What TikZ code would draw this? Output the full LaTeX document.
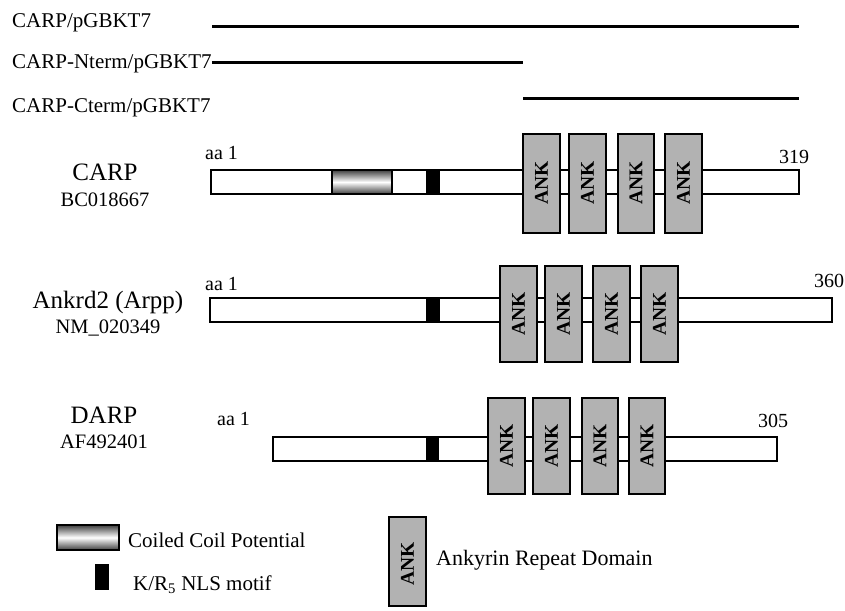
\documentclass[tikz,border=0pt]{standalone}
\usepackage{fontspec}
\setmainfont{Liberation Serif}
\begin{document}
\begin{tikzpicture}[x=1pt,y=-1pt,
  bar/.style={draw=black, line width=1.5pt, fill=white},
  ankbox/.style={draw=black, line width=1.5pt, fill=black!30},
  nlsbox/.style={draw=black, line width=1pt, fill=black},
  coil/.style={draw=black, line width=1.5pt, top color=black!75, bottom color=black!75, middle color=white},
  construct/.style={line width=3pt},
  toplbl/.style={font=\fontsize{21}{24}\selectfont, inner sep=0pt, anchor=base west},
  protname/.style={font=\fontsize{25}{28}\selectfont, inner sep=0pt, anchor=base},
  accname/.style={font=\fontsize{20.5}{24}\selectfont, inner sep=0pt, anchor=base},
  num/.style={font=\fontsize{20}{24}\selectfont, inner sep=0pt, anchor=base west},
  anktxt/.style={font=\bfseries\fontsize{19.5}{22}\selectfont, inner sep=0pt, rotate=90},
  leg/.style={font=\fontsize{21}{24}\selectfont, inner sep=0pt, anchor=base west}
]
\useasboundingbox (0,0) rectangle (845,610);

% ---------- constructs ----------
\node[toplbl] (t1) at (12,28) {CARP/pGBKT7};
\node[toplbl] (t2) at (12,68) {CARP-Nterm/pGBKT7};
\node[toplbl] (t3) at (12,112) {CARP-Cterm/pGBKT7};
\coordinate (l1a) at (212,26.5);
\coordinate (l1b) at (799,26.5);
\coordinate (l2b) at (523,62);
\coordinate (l3a) at (523,98);
\coordinate (l3b) at (799,98);
\draw[construct] (l1a) -- (l1b);
\draw[construct] (t2.east |- l2b) -- (l2b);
\draw[construct] (l3a) -- (l3b);

% ---------- CARP ----------
\node[protname] (carp) at (105,180) {CARP};
\node[accname] (carpacc) at (105,206) {BC018667};
\node[num] (carp1) at (205,159) {aa 1};
\node[num] (carpend) at (779,163) {319};
\draw[bar] (211,170) rectangle (799,194);
\draw[coil] (332,170) rectangle (392,194);
\draw[nlsbox] (426,170) rectangle (439,194);
\foreach \a/\b [count=\i] in {523/560,569/606,618/654,665/702}{
  \draw[ankbox] (\a,134) rectangle (\b,233);
  \node[anktxt] (carpank\i) at ({(\a+\b)/2},183) {ANK};
}

% ---------- Ankrd2 ----------
\node[protname] (ank2) at (108,308) {Ankrd2 (Arpp)};
\node[accname] (ank2acc) at (108,333) {NM\_020349};
\node[num] (ank21) at (205,290) {aa 1};
\node[num] (ank2end) at (814,287) {360};
\draw[bar] (210,298) rectangle (832,322);
\draw[nlsbox] (426,298) rectangle (439,322);
\foreach \a/\b [count=\i] in {500/537,545/582,593/630,641/678}{
  \draw[ankbox] (\a,266) rectangle (\b,362);
  \node[anktxt] (ankrdank\i) at ({(\a+\b)/2},314) {ANK};
}

% ---------- DARP ----------
\node[protname] (darp) at (104,423) {DARP};
\node[accname] (darpacc) at (104,448) {AF492401};
\node[num] (darp1) at (217,425) {aa 1};
\node[num] (darpend) at (758,427) {305};
\draw[bar] (273,437) rectangle (777,461);
\draw[nlsbox] (426,437) rectangle (438,461);
\foreach \a/\b [count=\i] in {488/525,533/570,582/618,629/665}{
  \draw[ankbox] (\a,398) rectangle (\b,494);
  \node[anktxt] (darpank\i) at ({(\a+\b)/2},446) {ANK};
}

% ---------- legend ----------
\draw[coil] (57,525) rectangle (119,550);
\node[leg] (legcoil) at (128,547) {Coiled Coil Potential};
\draw[nlsbox] (95,564) rectangle (108,589);
\node[leg] (legnls) at (133,590) {K/R\textsubscript{5} NLS motif};
\draw[ankbox] (389,517) rectangle (426,606);
\node[anktxt] (legank) at (407.5,564) {ANK};
\node[leg, font=\fontsize{22}{24}\selectfont] (legankt) at (436,565) {Ankyrin Repeat Domain};
\end{tikzpicture}
\end{document}
